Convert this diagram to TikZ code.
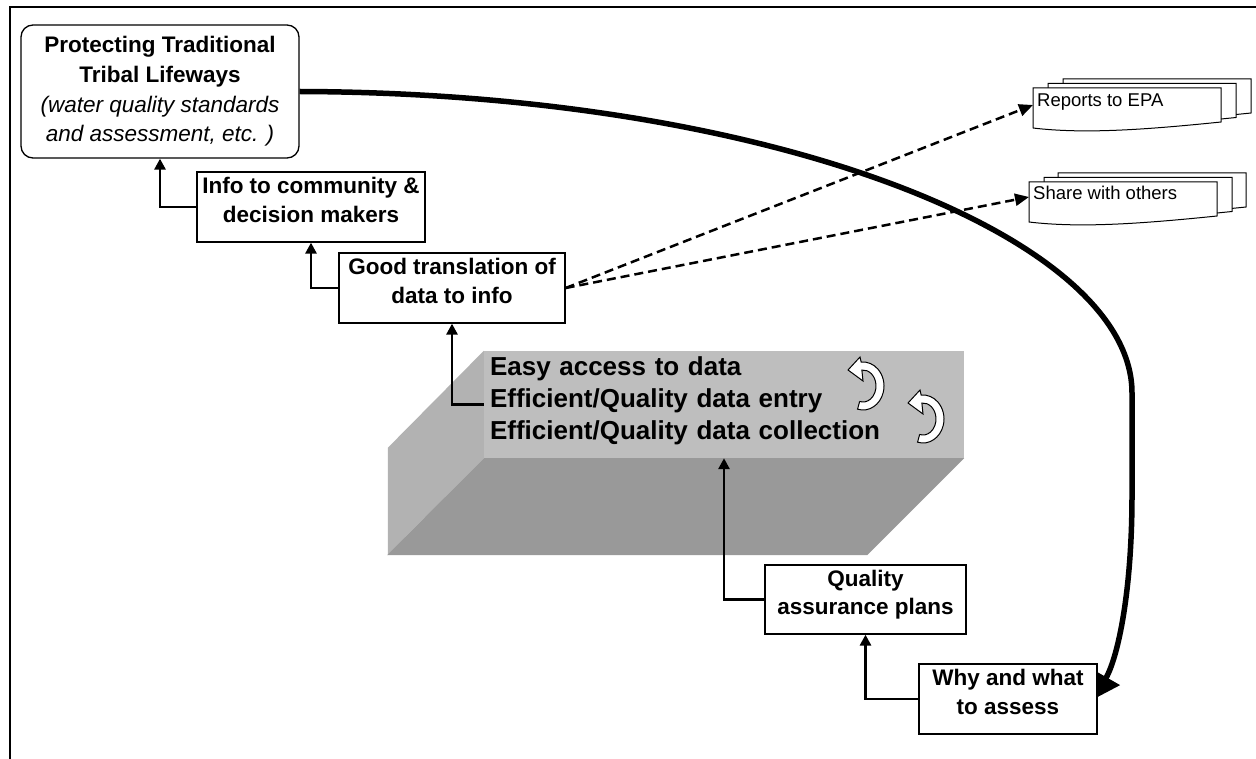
\documentclass[tikz,border=0pt]{standalone}
\usepackage{fontspec}
\setmainfont{Liberation Sans}
\usetikzlibrary{arrows.meta}
\newcommand\tst[1]{\rule{0pt}{#1pt}}
\newcommand\bst[1]{\rule[-#1pt]{0pt}{#1pt}}
\newcommand\itl{\mdseries\itshape}
\definecolor{frontc}{RGB}{190,190,190}
\definecolor{sidec}{RGB}{178,178,178}
\definecolor{botc}{RGB}{153,153,153}
\tikzset{
 box/.style={draw, line width=1.3pt, fill=white, align=center, inner sep=0pt,
   font=\fontsize{22.5}{28.5}\selectfont\bfseries},
 conn/.style={line width=2.8pt, -{Triangle[length=11pt,width=11pt]}},
 dconn/.style={line width=2.5pt, dash pattern=on 9pt off 5pt, -{Triangle[length=14pt,width=12pt]}},
 bigc/.style={line width=5.5pt, -{Triangle[length=25pt,width=30pt]}},
 doctext/.style={inner sep=0pt, font=\fontsize{18.5}{22}\selectfont},
 docpage/.pic={\draw[line width=1pt, fill=white] (0,0) -- (188,0) -- (188,34)
   .. controls (110,42) and (50,46) .. (0,40) -- cycle;},
 cyc/.pic={\begin{scope}[x=1pt,y=1pt]
   \draw[line width=1pt, fill=white] (-3.36,-15.45) -- (-5.43,-23.18)
     arc[start angle=-105, end angle=95, x radius=21, y radius=24]
     -- (-3,29) -- (-15,16) -- (0,5) -- (-1.13,15.94)
     arc[start angle=95, end angle=-105, x radius=13, y radius=16] -- cycle;
   \end{scope}}
}
\begin{document}
\begin{tikzpicture}[x=1pt,y=-1pt]
\useasboundingbox (0,0) rectangle (1256,759);
\fill[white] (0,0) rectangle (1256,759);
% frame
\draw[line width=2pt] (9.5,762) -- (9.5,7.5) -- (1260,7.5);

% boxes
\node[box, rounded corners=12pt, minimum width=278pt, minimum height=133pt,
  font=\fontsize{22.5}{29.6}\selectfont\bfseries] (prot) at (160,91.5)
  {\tst{17.8}Protecting Traditional\\Tribal Lifeways\\{\itl (water quality standards}\\{\itl and assessment, etc. )}\bst{6}};
\node[box, minimum width=228pt, minimum height=70pt] (info) at (311,207)
  {\tst{18}Info to community \&\\decision makers\bst{16}};
\node[box, minimum width=226pt, minimum height=70pt] (good) at (452,288)
  {\tst{18}Good translation of\\data to info\bst{16}};

% 3D block
\node[fill=frontc, inner xsep=6pt, inner ysep=0pt, minimum height=107pt,
  text width=468pt, align=left, font=\fontsize{26}{32.5}\selectfont\bfseries]
  (front) at (724,404.5)
  {\tst{20}Easy access to data\\Efficient/Quality data entry\\Efficient/Quality data collection\bst{14}};
\fill[sidec] (front.north west) -- ++(-96,97) -- ++(0,107) -- (front.south west) -- cycle;
\fill[botc] (front.south west) -- (front.south east) -- ++(-97,97) -- ++(-480,0) -- cycle;
\pic at (863,386) {cyc};
\pic at (923,419) {cyc};

\node[box, minimum width=201pt, minimum height=69pt] (qa) at (865.5,599.5)
  {\tst{18}Quality\\assurance plans\bst{16}};

% document stacks
\pic at (1063,79) {docpage};
\pic at (1048,83.5) {docpage};
\pic at (1033,88) {docpage};
\node[doctext, anchor=base west] (rep) at (1037,107) {Reports to EPA};
\pic at (1058,173) {docpage};
\pic at (1044,177.5) {docpage};
\pic at (1029,182) {docpage};
\node[doctext, anchor=base west] (share) at (1033,200) {Share with others};
\coordinate (repin) at (1033,105);
\coordinate (sharein) at (1029,197);

% connectors
\draw[conn] (info.west) -| (prot.south);
\draw[conn] (good.west) -| (info.south);
\draw[conn] (front.west) -| (good.south);
\draw[conn] (qa.west) -| (front.south);
\draw[dconn] (good.east) -- (repin);
\draw[dconn] (good.east) -- (sharein);

% big curve
\coordinate (whyin) at (1094,699);
\draw[bigc] (prot.east) .. controls (780,93) and (1132,240) .. (1132,393)
  -- (1132,495) .. controls (1132,592) and (1118,657) .. (whyin);

\node[box, minimum width=178pt, minimum height=70pt] (why) at (1008,699)
  {\tst{18}Why and what\\to assess\bst{16}};
\draw[conn] (why.west) -| (qa.south);
\end{tikzpicture}
\end{document}
